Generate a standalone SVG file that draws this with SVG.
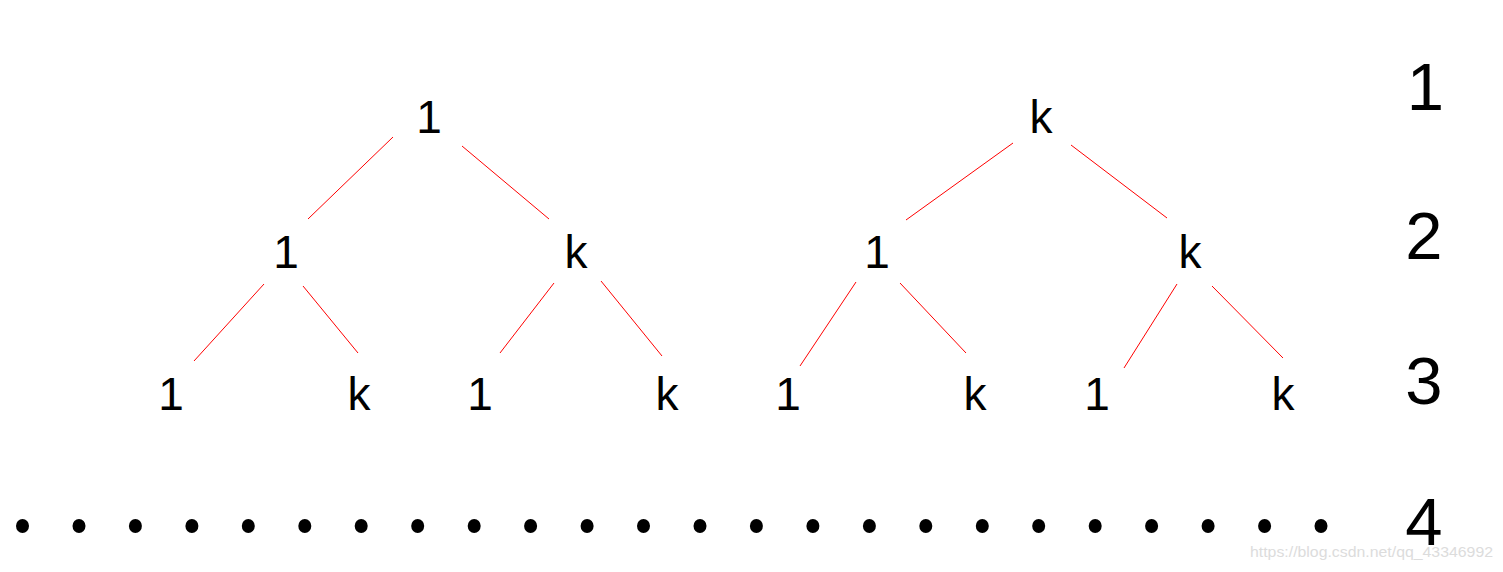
<svg xmlns="http://www.w3.org/2000/svg" width="1503" height="572" viewBox="0 0 1503 572">
<style>
.n{font-family:"Liberation Sans",Arial,sans-serif;font-size:46px;fill:#000;text-anchor:middle}
.lv{font-family:"Liberation Sans",Arial,sans-serif;font-size:67px;fill:#000;text-anchor:middle}
.e{stroke:#ff0000;stroke-width:1;fill:none}
.d{fill:#000}
.wm{font-family:"Liberation Sans",Arial,sans-serif;font-size:15px;fill:#dcdcdc}
</style>
<rect width="1503" height="572" fill="#fff"/>
<g id="connectors">
<line class="e" x1="393" y1="137" x2="308" y2="219"/>
<line class="e" x1="462" y1="146" x2="549" y2="219"/>
<line class="e" x1="264" y1="284" x2="194" y2="361"/>
<line class="e" x1="303" y1="286" x2="358" y2="353"/>
<line class="e" x1="554" y1="283" x2="500" y2="353"/>
<line class="e" x1="601" y1="281" x2="662" y2="356"/>
<line class="e" x1="1013" y1="143" x2="906" y2="220"/>
<line class="e" x1="1071" y1="145" x2="1167" y2="218"/>
<line class="e" x1="856" y1="282" x2="800" y2="366"/>
<line class="e" x1="900" y1="283" x2="966" y2="353"/>
<line class="e" x1="1177" y1="284" x2="1124" y2="368"/>
<line class="e" x1="1212" y1="286" x2="1283" y2="358"/>
</g>
<g id="t1-root"><text class="n" x="429" y="133">1</text></g>
<g id="t1-l"><text class="n" x="286" y="268">1</text></g>
<g id="t1-r"><text class="n" x="576" y="268">k</text></g>
<g id="t1-ll"><text class="n" x="171" y="410">1</text></g>
<g id="t1-lr"><text class="n" x="359" y="410">k</text></g>
<g id="t1-rl"><text class="n" x="480" y="410">1</text></g>
<g id="t1-rr"><text class="n" x="667" y="410">k</text></g>
<g id="t2-root"><text class="n" x="1041" y="133">k</text></g>
<g id="t2-l"><text class="n" x="877" y="268">1</text></g>
<g id="t2-r"><text class="n" x="1190" y="268">k</text></g>
<g id="t2-ll"><text class="n" x="788" y="410">1</text></g>
<g id="t2-lr"><text class="n" x="975" y="410">k</text></g>
<g id="t2-rl"><text class="n" x="1097" y="410">1</text></g>
<g id="t2-rr"><text class="n" x="1283" y="410">k</text></g>
<g id="levels">
<text class="lv" x="1425.5" y="110">1</text>
<text class="lv" x="1424" y="259">2</text>
<text class="lv" x="1424" y="404">3</text>
<text class="lv" x="1424" y="545">4</text>
</g>
<g id="dots">
<ellipse class="d" cx="22.5" cy="526" rx="6.5" ry="7"/>
<ellipse class="d" cx="79" cy="526" rx="6.5" ry="7"/>
<ellipse class="d" cx="135.4" cy="526" rx="6.5" ry="7"/>
<ellipse class="d" cx="191.9" cy="526" rx="6.5" ry="7"/>
<ellipse class="d" cx="248.3" cy="526" rx="6.5" ry="7"/>
<ellipse class="d" cx="304.8" cy="526" rx="6.5" ry="7"/>
<ellipse class="d" cx="361.2" cy="526" rx="6.5" ry="7"/>
<ellipse class="d" cx="417.7" cy="526" rx="6.5" ry="7"/>
<ellipse class="d" cx="474.2" cy="526" rx="6.5" ry="7"/>
<ellipse class="d" cx="530.6" cy="526" rx="6.5" ry="7"/>
<ellipse class="d" cx="587.1" cy="526" rx="6.5" ry="7"/>
<ellipse class="d" cx="643.5" cy="526" rx="6.5" ry="7"/>
<ellipse class="d" cx="700" cy="526" rx="6.5" ry="7"/>
<ellipse class="d" cx="756.4" cy="526" rx="6.5" ry="7"/>
<ellipse class="d" cx="812.9" cy="526" rx="6.5" ry="7"/>
<ellipse class="d" cx="869.4" cy="526" rx="6.5" ry="7"/>
<ellipse class="d" cx="925.8" cy="526" rx="6.5" ry="7"/>
<ellipse class="d" cx="982.3" cy="526" rx="6.5" ry="7"/>
<ellipse class="d" cx="1038.7" cy="526" rx="6.5" ry="7"/>
<ellipse class="d" cx="1095.2" cy="526" rx="6.5" ry="7"/>
<ellipse class="d" cx="1151.6" cy="526" rx="6.5" ry="7"/>
<ellipse class="d" cx="1208.1" cy="526" rx="6.5" ry="7"/>
<ellipse class="d" cx="1264.6" cy="526" rx="6.5" ry="7"/>
<ellipse class="d" cx="1321" cy="526" rx="6.5" ry="7"/>
</g>
<text class="wm" x="1250" y="557" textLength="243" lengthAdjust="spacingAndGlyphs">https://blog.csdn.net/qq_43346992</text>
</svg>
